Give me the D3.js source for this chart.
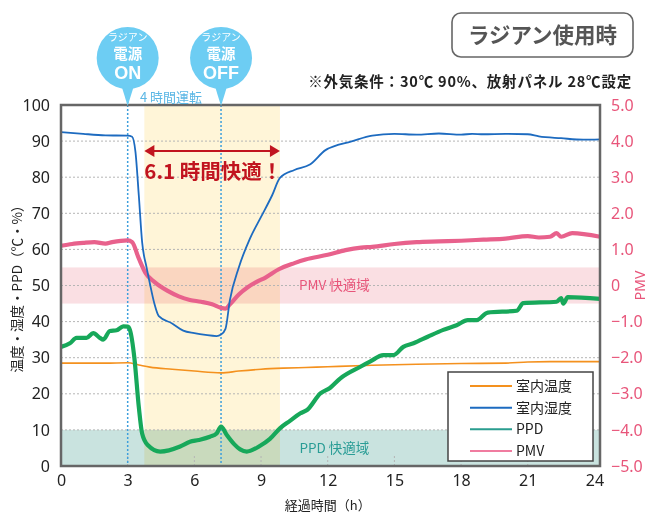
<!DOCTYPE html>
<html><head><meta charset="utf-8">
<script src="https://cdn.jsdelivr.net/npm/d3@7"></script>
<style>
html,body{margin:0;padding:0;background:#fff;}
svg{display:block;font-family:"Noto Sans CJK JP","Noto Sans",sans-serif;}
</style></head>
<body>
<script>
// ---- data ----
const xTicks = [0,3,6,9,12,15,18,21,24];
const leftTicks = [0,10,20,30,40,50,60,70,80,90,100];
const rightTicks = [-5,-4,-3,-2,-1,0,1,2,3,4,5];
const legendLabels = ["室内温度","室内湿度","PPD","PMV"];
const events = [3, 7.2];             // radiant panel ON / OFF (h)
const eventLabels = ["ON","OFF"];
const comfortSpan = [3.75, 9.85];    // 6.1 h comfortable
const pmvComfort = [-0.5, 0.5];
const ppdComfort = [0, 10];

const tempData = [[0,28.5],[1,28.5],[2,28.5],[3,28.6],[3.5,28.0],[4,27.4],[5,26.8],[6,26.3],[7.2,25.8],[8,26.3],[9,26.8],[10,27.1],[11,27.3],[12,27.5],[14,27.9],[16,28.2],[18,28.4],[20,28.5],[21,28.8],[22,28.9],[24.25,28.9]];
const humidData = [[0,92.5],[1,92],[2,91.6],[3,91.5],[3.2,91.2],[3.35,87],[3.5,75],[3.65,62],[3.85,55],[4.0,50.5],[4.2,45],[4.4,41.5],[5,39.5],[5.5,37.5],[6,36.8],[6.5,36.3],[7,36],[7.2,36.4],[7.4,38],[7.6,46],[8,55],[8.5,63],[9,69],[9.5,75],[9.85,79.8],[10.5,82],[11.2,83.5],[11.9,87.5],[12.5,89],[13,89.8],[14,91.5],[15,92],[16,91.8],[17,92.1],[18,91.8],[18.5,92],[19,91.9],[20,92],[21,91.9],[21.5,91.3],[22.5,90.8],[23.5,90.4],[24.25,90.5]];
const pmvData = [[0,1.1],[0.5,1.15],[1,1.18],[1.5,1.2],[2,1.16],[2.3,1.2],[3,1.25],[3.2,1.2],[3.5,0.75],[3.8,0.35],[4.2,0.1],[4.8,-0.15],[5.3,-0.3],[5.8,-0.4],[6.3,-0.45],[6.8,-0.52],[7.2,-0.62],[7.4,-0.64],[7.6,-0.52],[8,-0.25],[8.4,-0.05],[8.8,0.1],[9.2,0.22],[9.8,0.45],[10.5,0.62],[11,0.72],[12,0.85],[12.8,0.98],[13.5,1.05],[14,1.07],[15,1.15],[16,1.2],[17,1.22],[18,1.24],[19,1.27],[20,1.3],[21,1.37],[21.5,1.33],[22,1.35],[22.3,1.45],[22.5,1.35],[23,1.45],[24.25,1.35]];
const ppdData = [[0,33],[0.4,34],[0.7,35.5],[1.15,35.5],[1.45,36.8],[1.75,35.5],[1.9,35],[2.2,37.4],[2.5,37.6],[2.8,38.7],[3.0,38.6],[3.1,37.7],[3.3,30],[3.5,16.4],[3.65,9],[3.9,5.8],[4.46,4.0],[5.36,5.4],[5.8,6.7],[6.2,7.2],[6.7,8.1],[7.0,9.0],[7.2,10.9],[7.46,8.6],[7.8,6],[8.06,4.6],[8.36,4.0],[8.96,5.6],[9.4,7.5],[9.86,10.5],[10.3,12.5],[10.77,14.6],[11.07,15.5],[11.67,20.1],[12.1,21.6],[12.57,24.3],[13.47,27.5],[13.9,28.9],[14.5,30.7],[14.96,30.7],[15.4,33],[15.86,34],[16.5,35.8],[17.2,37.7],[17.8,39],[18.3,40.4],[18.7,40.4],[19.2,42.5],[20.5,43],[20.8,45.1],[22.3,45.5],[22.5,46.5],[22.6,45],[22.8,46.8],[24.25,46.3]];

// ---- setup ----
const W = 658, H = 518;
const svg = d3.select("body").append("svg").attr("width", W).attr("height", H);
const x = d3.scaleLinear().domain([0, 24.25]).range([61, 600]);
const y = d3.scaleLinear().domain([0, 100]).range([466, 105]);
const yR = d3.scaleLinear().domain([-5, 5]).range([466, 105]);

const C = {temp:"#f4911e", hum:"#1d6bc0", ppd:"#17a85a", pmv:"#e8618c", pink:"#e8557a", teal:"#2a9d96", bubble:"#6dcdf3", red:"#c1141f"};

// bands
svg.append("rect").attr("x", x(comfortSpan[0])).attr("y", y(100))
  .attr("width", x(comfortSpan[1]) - x(comfortSpan[0])).attr("height", y(0) - y(100)).attr("fill", "#fff5d8");
svg.append("rect").attr("x", x(0)).attr("y", yR(pmvComfort[1])).attr("width", x(24.25) - x(0))
  .attr("height", yR(pmvComfort[0]) - yR(pmvComfort[1])).attr("fill", "#fadfe3").style("mix-blend-mode", "multiply");
svg.append("rect").attr("x", x(0)).attr("y", y(ppdComfort[1])).attr("width", x(24.25) - x(0))
  .attr("height", y(ppdComfort[0]) - y(ppdComfort[1])).attr("fill", "#c9e3df").style("mix-blend-mode", "multiply");

// grid
svg.append("g").selectAll("line").data(leftTicks.filter(d => d > 0 && d < 100)).join("line")
  .attr("x1", x(0)).attr("x2", x(24.25)).attr("y1", d => y(d)).attr("y2", d => y(d))
  .attr("stroke", "#b5b5b5").attr("stroke-width", 1).attr("stroke-dasharray", "2,2");
svg.append("g").selectAll("line").data(xTicks.filter(d => d > 0 && d < 24)).join("line")
  .attr("x1", d => x(d)).attr("x2", d => x(d)).attr("y1", y(0)).attr("y2", y(0) - 10)
  .attr("stroke", "#b5b5b5").attr("stroke-width", 1).attr("stroke-dasharray", "2,2");

// band labels
svg.append("text").attr("x", x(12.3)).attr("y", yR(0)).attr("dy", "0.35em").attr("text-anchor", "middle")
  .attr("font-size", 13.5).attr("fill", C.pink).text("PMV 快適域");
svg.append("text").attr("x", x(12.3)).attr("y", y(ppdComfort[1] / 2)).attr("dy", "0.35em").attr("text-anchor", "middle")
  .attr("font-size", 13.5).attr("fill", C.teal).text("PPD 快適域");

// event dotted lines
svg.append("g").selectAll("line").data(events).join("line")
  .attr("x1", d => x(d)).attr("x2", d => x(d)).attr("y1", y(100) - 4).attr("y2", y(0))
  .attr("stroke", "#3d9fdc").attr("stroke-width", 1.5).attr("stroke-dasharray", "2,2");

// lines
const line = (ys) => d3.line().x(d => x(d[0])).y(d => ys(d[1])).curve(d3.curveMonotoneX);
svg.append("path").datum(tempData).attr("d", line(y)).attr("fill", "none").attr("stroke", C.temp).attr("stroke-width", 1.6);
svg.append("path").datum(pmvData).attr("d", line(yR)).attr("fill", "none").attr("stroke", C.pmv).attr("stroke-width", 4.2).attr("stroke-linejoin", "round");
svg.append("path").datum(humidData).attr("d", line(y)).attr("fill", "none").attr("stroke", C.hum).attr("stroke-width", 1.8);
svg.append("path").datum(ppdData).attr("d", line(y)).attr("fill", "none").attr("stroke", C.ppd).attr("stroke-width", 4.2).attr("stroke-linejoin", "round");

// frame
svg.append("rect").attr("x", x(0)).attr("y", y(100)).attr("width", x(24.25) - x(0)).attr("height", y(0) - y(100))
  .attr("fill", "none").attr("stroke", "#666").attr("stroke-width", 2.5);

// axes
const axL = svg.append("g").attr("transform", `translate(${x(0)},0)`)
  .call(d3.axisLeft(y).tickValues(leftTicks).tickSize(0).tickPadding(11));
const axR = svg.append("g").attr("transform", `translate(${x(24.25)},0)`)
  .call(d3.axisRight(yR).tickValues(rightTicks).tickSize(0).tickPadding(11).tickFormat(d => d === 0 ? "0" : d3.format(".1f")(d)));
const axB = svg.append("g").attr("transform", `translate(0,${y(0)})`)
  .call(d3.axisBottom(x).tickValues(xTicks).tickSize(0).tickPadding(9));
[axL, axR, axB].forEach(a => { a.select(".domain").remove(); a.selectAll("text").attr("font-family", "'Noto Sans',sans-serif").attr("font-size", 16); });
axL.selectAll("text").attr("fill", "#222");
axB.selectAll("text").attr("fill", "#222");
axR.selectAll("text").attr("fill", C.pink);

// axis titles
svg.append("text").attr("transform", `translate(22,${(y(0)+y(100))/2}) rotate(-90)`).attr("text-anchor", "middle")
  .attr("font-size", 13.5).attr("fill", "#222").text("温度・湿度・PPD（℃・%）");
svg.append("text").attr("transform", `translate(645,${yR(0)}) rotate(-90)`).attr("text-anchor", "middle")
  .attr("font-size", 14).attr("fill", C.pink).attr("font-family", "'Noto Sans',sans-serif").text("PMV");
svg.append("text").attr("x", x(12)).attr("y", 510).attr("text-anchor", "middle")
  .attr("font-size", 13).attr("fill", "#222").text("経過時間（h）");

// arrow annotation
const ay = 151;
svg.append("line").attr("x1", x(comfortSpan[0]) + 6).attr("x2", x(comfortSpan[1]) - 6).attr("y1", ay).attr("y2", ay)
  .attr("stroke", C.red).attr("stroke-width", 2);
svg.append("path").attr("d", `M${x(comfortSpan[0])},${ay} l10,-6 v12 z`).attr("fill", C.red);
svg.append("path").attr("d", `M${x(comfortSpan[1])},${ay} l-10,-6 v12 z`).attr("fill", C.red);
svg.append("text").attr("x", x(comfortSpan[0])).attr("y", 179).attr("font-size", 20.5).attr("font-weight", "bold")
  .attr("fill", C.red).text("6.1 時間快適！");

svg.append("text").attr("x", x(3.55)).attr("y", 102).attr("font-size", 13).attr("fill", "#5bb7e5").text("4 時間運転");

// bubbles
const bub = svg.append("g").selectAll("g").data(events).join("g").attr("transform", d => `translate(${x(d)},0)`);
bub.append("path").attr("d", "M-8,80 L8,80 L0,106 Z").attr("fill", C.bubble);
bub.append("circle").attr("cx", 0).attr("cy", 58).attr("r", 31).attr("fill", C.bubble);
bub.append("text").attr("y", 41).attr("text-anchor", "middle").attr("font-size", 10).attr("fill", "#fff").text("ラジアン");
bub.append("text").attr("y", 59).attr("text-anchor", "middle").attr("font-size", 14.5).attr("font-weight", "bold").attr("fill", "#fff").text("電源");
bub.append("text").attr("y", 79).attr("text-anchor", "middle").attr("font-size", 18).attr("font-weight", "bold")
  .attr("font-family", "'Liberation Sans',Arial,sans-serif").attr("fill", "#fff").text((d, i) => eventLabels[i]);

// title box
svg.append("rect").attr("x", 452).attr("y", 13).attr("width", 181).attr("height", 44).attr("rx", 9)
  .attr("fill", "#fff").attr("stroke", "#666").attr("stroke-width", 1.6);
svg.append("text").attr("x", 542.5).attr("y", 43).attr("text-anchor", "middle").attr("font-size", 21.5)
  .attr("font-weight", "bold").attr("fill", "#555").text("ラジアン使用時");
svg.append("text").attr("x", 632).attr("y", 87).attr("text-anchor", "end").attr("font-size", 14.5)
  .attr("letter-spacing", 0.8).attr("font-weight", "bold").attr("fill", "#222").text("※外気条件：30℃ 90%、放射パネル 28℃設定");

// legend
const legColors = [C.temp, C.hum, "#2a9d8f", "#f07ca0"];
const leg = svg.append("g");
leg.append("rect").attr("x", 448).attr("y", 372).attr("width", 145).attr("height", 89)
  .attr("fill", "#fff").attr("stroke", "#444").attr("stroke-width", 1.5);
const rowY = d3.scalePoint().domain(legendLabels).range([386, 451]);
const items = leg.selectAll("g.it").data(legendLabels).join("g").attr("class", "it")
  .attr("transform", d => `translate(0,${rowY(d)})`);
items.append("line").attr("x1", 470).attr("x2", 512).attr("stroke", (d, i) => legColors[i]).attr("stroke-width", 2);
items.append("text").attr("x", 516).attr("dy", "0.36em").attr("font-size", 14).attr("fill", "#222").text(d => d);
</script>
</body></html>
